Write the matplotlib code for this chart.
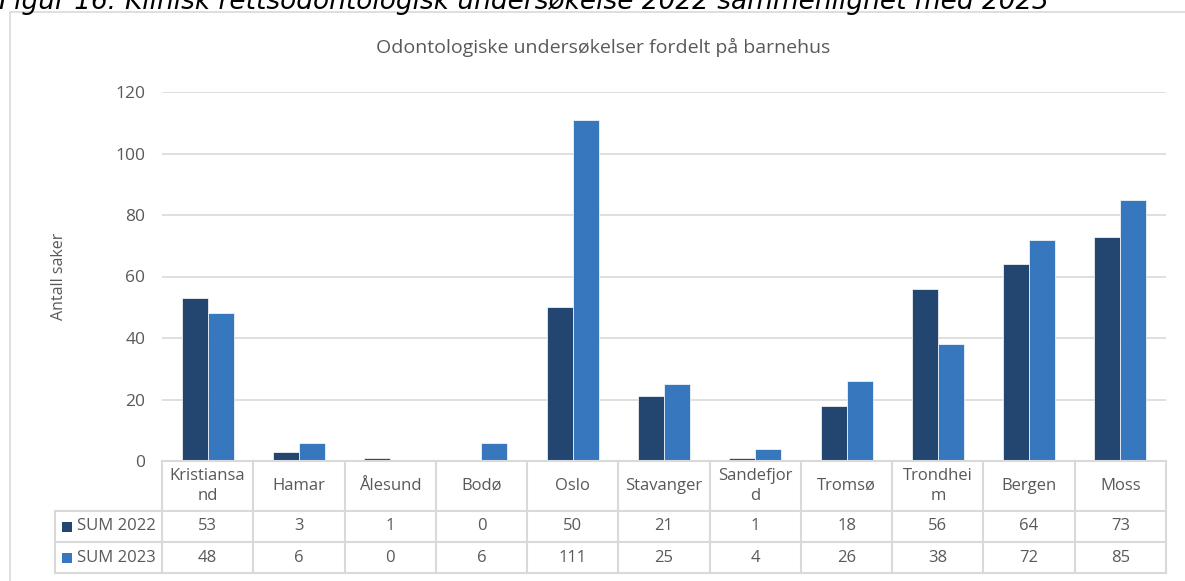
import matplotlib
matplotlib.use("Agg")
import matplotlib.pyplot as plt
from matplotlib.lines import Line2D
from matplotlib.patches import Rectangle
import numpy as np

steder = ["Kristiansand", "Hamar", "Ålesund", "Bodø", "Oslo", "Stavanger",
          "Sandefjord", "Tromsø", "Trondheim", "Bergen", "Moss"]
etiketter = ["Kristiansa\nnd", "Hamar", "Ålesund", "Bodø", "Oslo", "Stavanger",
             "Sandefjor\nd", "Tromsø", "Trondhei\nm", "Bergen", "Moss"]
sum_2022 = [53, 3, 1, 0, 50, 21, 1, 18, 56, 64, 73]
sum_2023 = [48, 6, 0, 6, 111, 25, 4, 26, 38, 72, 85]
serier = ["SUM 2022", "SUM 2023"]
farger = ["#22466F", "#3677BD"]

W, H = 1185, 581
fig = plt.figure(figsize=(W / 100, H / 100), dpi=100)
plt.rcParams['font.family'] = ['Open Sans', 'DejaVu Sans']
tekst = "#595959"
grid = "#D9D9D9"


def fx(px):
    return px / W


def fy(py):
    return 1 - py / H


# outer frame of the chart
fig.add_artist(Rectangle((fx(10), fy(H + 5)), fx(W + 20), fy(12) - fy(H + 5),
                         fill=False, edgecolor=grid, lw=1.2, transform=fig.transFigure))

fig.text(fx(-1), fy(9), "Figur 16: Klinisk rettsodontologisk undersøkelse 2022 sammenlignet med 2023",
         family="DejaVu Sans", style="italic", fontsize=19, va="baseline", ha="left", color="black")

x0, x1 = 162, 1166
y_top, y_bot = 92, 461
ax = fig.add_axes([fx(x0), fy(y_bot), fx(x1) - fx(x0), fy(y_top) - fy(y_bot)])
n = len(steder)
x = np.arange(n)
bw = 0.285
ax.bar(x - bw / 2, sum_2022, bw, color=farger[0], edgecolor="white", lw=0.5, zorder=3)
ax.bar(x + bw / 2, sum_2023, bw, color=farger[1], edgecolor="white", lw=0.5, zorder=3)
ax.set_xlim(-0.5, n - 0.5)
ax.set_ylim(0, 120)
ax.set_yticks(range(0, 121, 20))
ax.yaxis.grid(True, color=grid, lw=1.2)
ax.set_axisbelow(True)
for s in ax.spines.values():
    s.set_visible(False)
ax.tick_params(axis="y", length=0, pad=12, labelsize=12.5, labelcolor=tekst)
ax.set_xticks([])
ax.set_ylabel("Antall saker", fontsize=11.5, color=tekst)
ax.yaxis.set_label_coords((67 - x0) / (x1 - x0), 0.5)

fig.text(0.509, fy(47), "Odontologiske undersøkelser fordelt på barnehus",
         ha="center", va="center", fontsize=14, color=tekst)

# data table under the axis
rows = [461, 511, 542, 573]
legend_left = 55
cw = (x1 - x0) / n
lines = []
lines.append(((x0, x1), (rows[0], rows[0])))
for r in rows[1:]:
    lines.append(((legend_left, x1), (r, r)))
for i in range(n + 1):
    lines.append(((x0 + i * cw, x0 + i * cw), (rows[0], rows[3])))
lines.append(((legend_left, legend_left), (rows[1], rows[3])))
for (xs, ys) in lines:
    fig.add_artist(Line2D([fx(v) for v in xs], [fy(v) for v in ys], color=grid, lw=1.5,
                          transform=fig.transFigure))

for i in range(n):
    cx = fx(x0 + (i + 0.5) * cw)
    fig.text(cx, fy((rows[0] + rows[1]) / 2), etiketter[i], ha="center", va="center",
             fontsize=12, color=tekst, linespacing=1.3)
    fig.text(cx, fy((rows[1] + rows[2]) / 2), str(sum_2022[i]), ha="center", va="center",
             fontsize=12, color=tekst)
    fig.text(cx, fy((rows[2] + rows[3]) / 2), str(sum_2023[i]), ha="center", va="center",
             fontsize=12, color=tekst)

for k, (navn, farge) in enumerate(zip(serier, farger)):
    yc = (rows[k + 1] + rows[k + 2]) / 2
    fig.add_artist(Rectangle((fx(62), fy(yc + 5)), fx(10), fy(yc - 5) - fy(yc + 5),
                             facecolor=farge, edgecolor="none", transform=fig.transFigure))
    fig.text(fx(77), fy(yc), navn, ha="left", va="center", fontsize=12, color=tekst)

fig.savefig("out.png", dpi=100)
